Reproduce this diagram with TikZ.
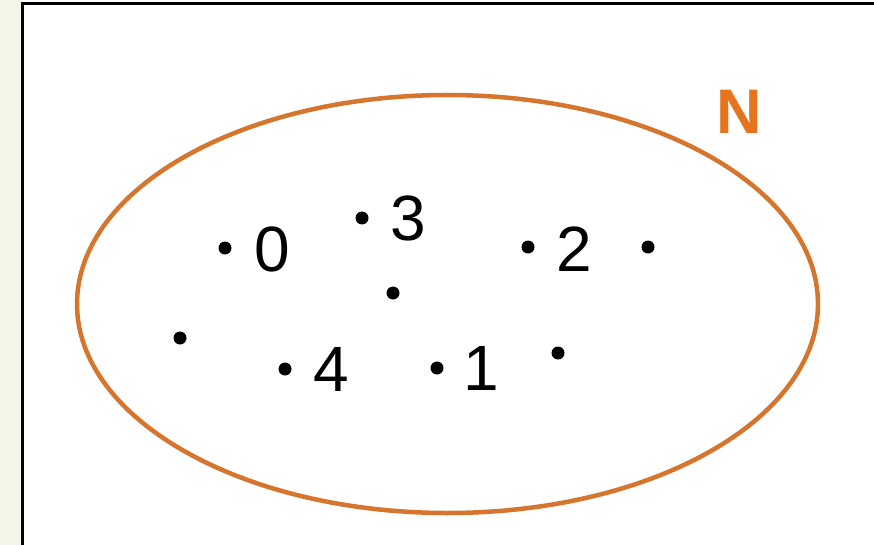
\documentclass[tikz,border=0pt]{standalone}
\usepackage{fontspec}
\setmainfont{Liberation Sans}
\usepackage{tikz}
\usetikzlibrary{positioning}
\definecolor{setorange}{RGB}{214,117,45}
\definecolor{labelorange}{RGB}{230,115,30}
\definecolor{sidegreen}{RGB}{243,245,233}

\tikzset{
  elem/.style={circle, fill=black, inner sep=0pt, minimum size=13pt},
  num/.style={inner sep=0pt, font=\fontsize{64}{64}\selectfont}
}

\begin{document}
\begin{tikzpicture}[x=1pt,y=-1pt]
        \useasboundingbox (0,0) rectangle (874,545);
        %Background
        \fill[sidegreen] (0,0) rectangle (21,545);
        \fill[white] (21,0) rectangle (874,545);
        \draw[line width=3pt] (22.5,545) -- (22.5,3.5) -- (874,3.5);
        %Set
        \draw[setorange, line width=4.5pt] (447.5,304) ellipse [x radius=370.5, y radius=209];
        \node[inner sep=0pt, text=labelorange, font=\fontsize{63}{63}\selectfont\bfseries] (lblN) at (739,112) {N};
        %Elements
        \node[elem] (e0) at (225,248) {};
        \node[elem] (e3) at (362,218) {};
        \node[elem] (e2) at (528,247) {};
        \node[elem] (e4) at (285,369) {};
        \node[elem] (e1) at (437,368) {};
        \node[elem] (f1) at (648,247) {};
        \node[elem] (f2) at (393,293) {};
        \node[elem] (f3) at (180,338) {};
        \node[elem] (f4) at (558,353) {};
        %Labels
        \node[num] (n0) at (272,249) {0};
        \node[num] (n3) at (408,218) {3};
        \node[num] (n2) at (574,249) {2};
        \node[num] (n4) at (331,369) {4};
        \node[num] (n1) at (481,368) {1};
\end{tikzpicture}
\end{document}
